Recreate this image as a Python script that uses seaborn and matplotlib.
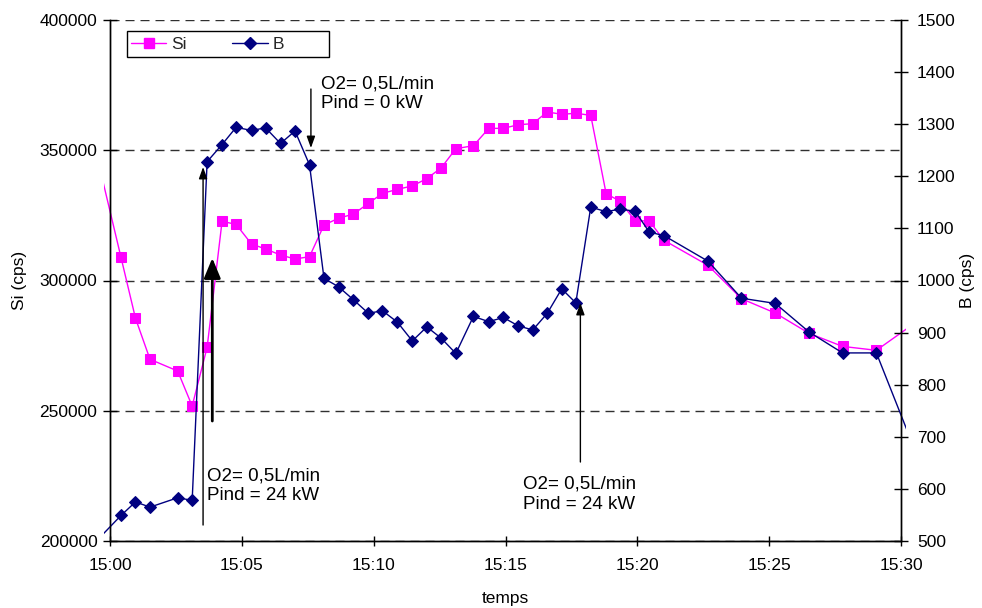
import numpy as np
import pandas as pd
import matplotlib
matplotlib.use("Agg")
import matplotlib.pyplot as plt
import seaborn as sns
from matplotlib.patches import Rectangle
from matplotlib.lines import Line2D

# ---------------- data ----------------
times = ["14:59:20",
         "15:00:25", "15:00:58", "15:01:31", "15:02:34", "15:03:07", "15:03:41",
         "15:04:15", "15:04:47", "15:05:22", "15:05:54", "15:06:28", "15:07:01",
         "15:07:34", "15:08:07", "15:08:40", "15:09:14", "15:09:48", "15:10:20",
         "15:10:54", "15:11:28", "15:12:01", "15:12:34", "15:13:07", "15:13:47",
         "15:14:22", "15:14:55", "15:15:29", "15:16:02", "15:16:35", "15:17:08",
         "15:17:40", "15:18:14", "15:18:49", "15:19:20", "15:19:55", "15:20:27",
         "15:21:01", "15:22:41", "15:23:57", "15:25:14", "15:26:31", "15:27:47",
         "15:29:04",
         "15:31:16"]

si_values = [355000,
             308900, 285500, 269750, 265250, 251800, 274350,
             322700, 321550, 314000, 312100, 309800, 308250,
             309150, 321300, 323900, 325500, 329600, 333450,
             335000, 336300, 339100, 343300, 350600, 351750,
             358400, 358400, 359800, 360200, 364700, 363800,
             364200, 363400, 333350, 330500, 322950, 322850,
             315400, 305800, 293000, 287500, 279700, 274700,
             273200,
             289000]

b_values = [492,
            549, 575, 565, 583, 578, 1228,
            1261, 1294, 1288, 1293, 1263, 1287,
            1222, 1004, 988, 963, 937, 942,
            920, 884, 911, 889, 860, 931,
            921, 929, 913, 905, 937, 984,
            957, 1141, 1132, 1137, 1133, 1093,
            1086, 1037, 966, 956, 901, 861,
            861,
            580]

x_tick_labels = ["15:00", "15:05", "15:10", "15:15", "15:20", "15:25", "15:30"]
x_tick_minutes = [0, 5, 10, 15, 20, 25, 30]
si_ticks = [200000, 250000, 300000, 350000, 400000]
b_ticks = [500, 600, 700, 800, 900, 1000, 1100, 1200, 1300, 1400, 1500]

annotation_text_1 = "O2= 0,5L/min\nPind = 24 kW"
annotation_text_2 = "O2= 0,5L/min\nPind = 0 kW"
annotation_text_3 = "O2= 0,5L/min\nPind = 24 kW"

df = pd.DataFrame({"t": times, "Si": si_values, "B": b_values})
df["minutes"] = (pd.to_timedelta(df["t"]) - pd.Timedelta("15:00:00")).dt.total_seconds() / 60.0

# ---------------- style ----------------
sns.set_theme(style="white")
plt.rcParams["font.family"] = ["Liberation Sans", "DejaVu Sans"]
plt.rcParams["axes.linewidth"] = 1.0

SI_COLOR = "#FF00FF"
B_COLOR = "#000080"
FS = 12.5

W, H = 982, 608
L, R, T, B_ = 110, 901, 20, 541
fig = plt.figure(figsize=(W / 100, H / 100), dpi=100)
ax = fig.add_axes([L / W, 1 - B_ / H, (R - L) / W, (B_ - T) / H])
ax2 = ax.twinx()

sns.lineplot(data=df, x="minutes", y="Si", ax=ax, color=SI_COLOR, marker="s",
             markersize=7, markeredgecolor=SI_COLOR, linewidth=1.0,
             sort=False, estimator=None, legend=False)
sns.lineplot(data=df, x="minutes", y="B", ax=ax2, color=B_COLOR, marker="D",
             markersize=6, markeredgecolor=B_COLOR, linewidth=1.0,
             sort=False, estimator=None, legend=False)

ax.set_xlim(0, 30)
ax.set_ylim(200000, 400000)
ax2.set_ylim(500, 1500)

# clip lines to a slightly wider plot area (like the original)
pw = R - L
clip = Rectangle((-6 / pw, -0.02), 1 + 11 / pw, 1.04, transform=ax.transAxes,
                 facecolor="none", edgecolor="none")
for ln in ax.lines + ax2.lines:
    ln.set_clip_path(clip)

ax.set_xticks(x_tick_minutes)
ax.set_xticklabels(x_tick_labels)
ax.set_yticks(si_ticks)
ax.set_yticklabels([str(v) for v in si_ticks])
ax2.set_yticks(b_ticks)
ax2.set_yticklabels([str(v) for v in b_ticks])

ax.grid(False)
ax2.grid(False)
ax.yaxis.grid(True, linestyle=(0, (6.5, 4.3)), color="#303030", linewidth=1.0)

for a in (ax, ax2):
    for s in a.spines.values():
        s.set_color("black")
        s.set_linewidth(1.0)
    a.spines["top"].set_visible(False)

ax.tick_params(axis="y", direction="inout", length=10, width=1, colors="black",
               labelsize=FS, pad=4, left=True)
ax.tick_params(axis="x", direction="inout", length=7, width=1, colors="black",
               labelsize=FS, pad=8.5, bottom=True)
ax2.tick_params(axis="y", direction="inout", length=10, width=1, colors="black",
                labelsize=FS, pad=6.5, right=True)

ax.set_xlabel("temps", fontsize=FS, color="black")
ax.set_ylabel("Si (cps)", fontsize=FS, color="black")
ax2.set_ylabel("B (cps)", fontsize=FS, color="black")
ax.xaxis.set_label_coords(0.5, -0.096)
ax.yaxis.set_label_coords(-0.105, 0.5)
ax2.yaxis.set_label_coords(1.075, 0.5)

# ---------------- annotations ----------------
thin = dict(arrowstyle="-|>,head_length=0.5,head_width=0.18", color="black",
            lw=1.0, shrinkA=0, shrinkB=0, mutation_scale=14)
thick = dict(arrowstyle="-|>,head_length=0.87,head_width=0.36", color="black",
             lw=2.0, shrinkA=0, shrinkB=0, mutation_scale=14)

ax2.annotate("", xy=(3.53, 343570), xytext=(3.53, 206130),
             xycoords=ax.transData, textcoords=ax.transData, arrowprops=thin)
ax2.annotate("", xy=(3.88, 308630), xytext=(3.88, 246060),
             xycoords=ax.transData, textcoords=ax.transData, arrowprops=thick)
ax2.text(3.68, 221100, annotation_text_1, transform=ax.transData, ha="left",
         va="center", fontsize=13.5, color="black")

ax2.annotate("", xy=(7.62, 350860), xytext=(7.62, 373510),
             xycoords=ax.transData, textcoords=ax.transData, arrowprops=thin)
ax2.text(8.0, 371780, annotation_text_2, transform=ax.transData, ha="left",
         va="center", fontsize=13.5, color="black")

ax2.annotate("", xy=(17.84, 291360), xytext=(17.84, 230320),
             xycoords=ax.transData, textcoords=ax.transData, arrowprops=thin)
ax2.text(15.66, 218000, annotation_text_3, transform=ax.transData, ha="left",
         va="center", fontsize=13.5, color="black", linespacing=1.3)

# ---------------- legend ----------------
ph = B_ - T
frame = Rectangle(((127 - L) / pw, (B_ - 57) / ph), (329 - 127) / pw, 26 / ph,
                  transform=ax.transAxes, facecolor="white", edgecolor="black",
                  linewidth=1.0, zorder=9, clip_on=False)
ax2.add_patch(frame)
handles = [Line2D([], [], color=SI_COLOR, marker="s", markersize=7, lw=1.0,
                  markeredgecolor=SI_COLOR),
           Line2D([], [], color=B_COLOR, marker="D", markersize=6, lw=1.0,
                  markeredgecolor=B_COLOR)]
leg = ax2.legend(handles, ["Si", "B"], ncol=2, loc="center left",
                 bbox_to_anchor=((131 - L) / pw, (B_ - 44) / ph),
                 frameon=False, borderpad=0, borderaxespad=0,
                 handlelength=2.04, handletextpad=0.3, columnspacing=2.6,
                 fontsize=FS)
leg.set_zorder(10)

fig.savefig("out.png", dpi=100)
